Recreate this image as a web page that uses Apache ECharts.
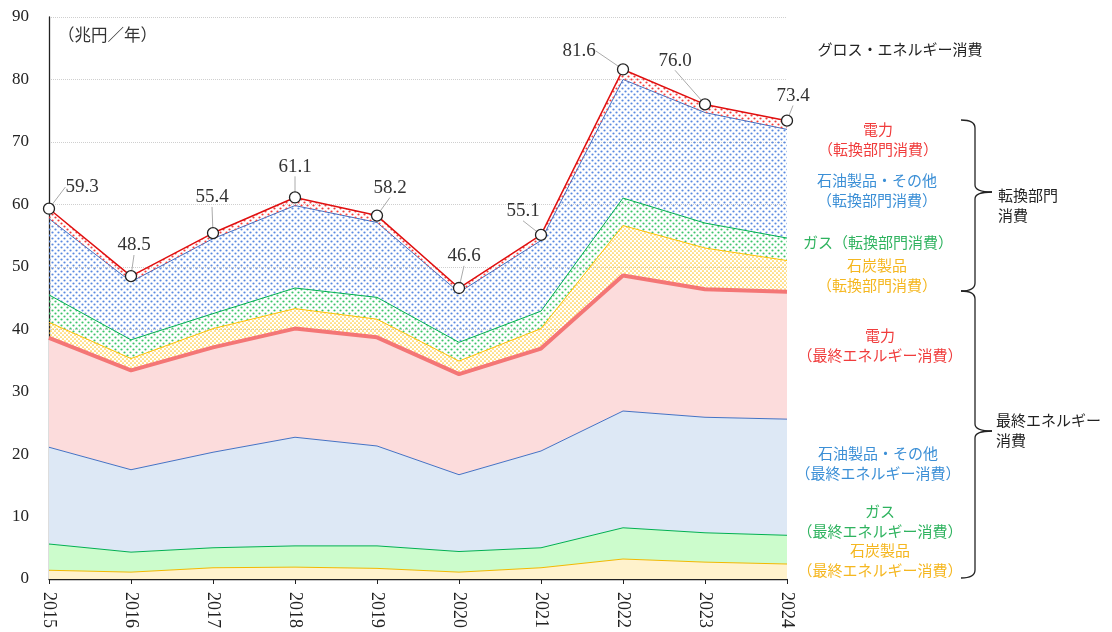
<!DOCTYPE html>
<html>
<head>
<meta charset="utf-8">
<title>エネルギー消費</title>
<script src="https://cdn.jsdelivr.net/npm/echarts/dist/echarts.min.js"></script>
<style>
  html, body { margin: 0; padding: 0; background: #fff; }
  #chart { width: 1112px; height: 632px; }
</style>
</head>
<body>
<div id="chart"></div>
<script>
const years = ['2015', '2016', '2017', '2018', '2019', '2020', '2021', '2022', '2023', '2024']

// 兆円／年, bottom to top of the stack
const coalFinal = [1.4, 1.1, 1.8, 1.9, 1.7, 1.1, 1.8, 3.2, 2.7, 2.4]
const gasFinal = [4.2, 3.2, 3.2, 3.4, 3.6, 3.3, 3.2, 5.0, 4.7, 4.6]
const oilFinal = [15.5, 13.2, 15.3, 17.4, 16.0, 12.3, 15.5, 18.7, 18.5, 18.6]
const elecFinal = [17.5, 15.9, 16.8, 17.4, 17.4, 16.1, 16.4, 21.7, 20.5, 20.4]
const coalConv = [2.5, 1.9, 3.0, 3.2, 2.9, 2.1, 3.2, 8.0, 6.6, 5.0]
const gasConv = [4.4, 3.0, 2.4, 3.3, 3.5, 3.0, 2.8, 4.4, 4.0, 3.6]
const oilConv = [12.2, 9.3, 12.0, 13.2, 12.0, 8.0, 11.3, 19.0, 17.7, 17.4]
const elecConv = [1.6, 0.9, 0.9, 1.3, 1.1, 0.7, 0.9, 1.6, 1.3, 1.4]

const yTicks = [0, 10, 20, 30, 40, 50, 60, 70, 80, 90]

const layers = [coalFinal, gasFinal, oilFinal, elecFinal, coalConv, gasConv, oilConv, elecConv]
const totals = years.map((y, i) => layers.reduce((s, arr) => s + arr[i], 0))

// where each total label sits relative to its point
const labelShift = [[33, -2], [3, -11], [-1, -16], [0, -11], [13, -8], [5, -12], [-18, -4], [-44, 1], [-30, -24], [6, -5]]

const serif = '"Liberation Serif", "Times New Roman", serif'
const jp = '"Noto Sans CJK JP", sans-serif'

function dots(color, w, h, pts, r) {
  const c = document.createElement('canvas')
  c.width = w
  c.height = h
  const ctx = c.getContext('2d')
  ctx.fillStyle = color
  pts.forEach(p => {
    ctx.beginPath()
    ctx.arc(p[0], p[1], r, 0, Math.PI * 2)
    ctx.fill()
  })
  return { image: c, repeat: 'repeat' }
}

const sparse = [[1.5, 1.5], [4.5, 4.5]]
const dense = [[1, 1], [3, 3]]

function layer(name, data, line, fill, width) {
  return {
    name: name,
    type: 'line',
    stack: 'all',
    data: data,
    showSymbol: false,
    symbol: 'none',
    silent: true,
    lineStyle: { color: line, width: width || 1 },
    areaStyle: { color: fill, opacity: 1 },
    animation: false
  }
}

const chart = echarts.init(document.getElementById('chart'))

const series = [
  layer('石炭製品（最終）', coalFinal, '#f2b800', '#fff2cc'),
  layer('ガス（最終）', gasFinal, '#00b050', '#ccfccc'),
  layer('石油製品・その他（最終）', oilFinal, '#4472c4', '#dde8f5'),
  layer('電力（最終）', elecFinal, '#f47676', '#fcdcdc', 4),
  layer('石炭製品（転換）', coalConv, '#ffc000', dots('#ffc52a', 4, 4, dense, 0.85)),
  layer('ガス（転換）', gasConv, '#00b050', dots('#3cc46c', 6, 6, sparse, 1.1)),
  layer('石油製品・その他（転換）', oilConv, '#4472c4', dots('#5a8ae0', 6, 6, sparse, 1.1)),
  layer('電力（転換）', elecConv, '#e01010', dots('#ee3b3b', 6, 6, sparse, 1.1), 1.5)
]

// top series carries the markers and total labels
Object.assign(series[7], {
  showSymbol: true,
  symbol: 'circle',
  symbolSize: 11,
  itemStyle: { color: '#fff', borderColor: '#222', borderWidth: 1.3 },
  z: 5,
  label: {
    show: true,
    position: 'top',
    distance: 4,
    fontFamily: serif,
    fontSize: 19,
    color: '#333',
    formatter: p => totals[p.dataIndex].toFixed(1)
  },
  labelLine: { show: true, lineStyle: { color: '#aaa', width: 1 } },
  labelLayout: p => ({ dx: labelShift[p.dataIndex][0], dy: labelShift[p.dataIndex][1] })
})

function note(text, x, y, color, align, size) {
  return {
    type: 'text',
    x: x,
    y: y,
    style: {
      text: text,
      fill: color,
      font: (size || 15) + 'px ' + jp,
      align: align || 'center',
      verticalAlign: 'middle',
      lineHeight: 20
    }
  }
}

const braceStyle = { fill: 'none', stroke: '#222', lineWidth: 1.3 }

function curve(x1, y1, cx, cy, x2, y2) {
  return { type: 'bezierCurve', shape: { x1: x1, y1: y1, cpx1: cx, cpy1: cy, x2: x2, y2: y2 }, style: braceStyle }
}

function seg(x1, y1, x2, y2) {
  return { type: 'line', shape: { x1: x1, y1: y1, x2: x2, y2: y2 }, style: braceStyle }
}

function brace(y1, ym, y2) {
  const x = 975
  return [
    curve(961, y1, x, y1, x, y1 + 8),
    seg(x, y1 + 8, x, ym - 7),
    curve(x, ym - 7, x, ym, 992, ym),
    curve(992, ym, x, ym, x, ym + 7),
    seg(x, ym + 7, x, y2 - 8),
    curve(x, y2 - 8, x, y2, 961, y2)
  ]
}

const red = '#f03c3c'
const blue = '#3b8fd6'
const green = '#2fb35f'
const amber = '#f5b720'

chart.setOption({
  animation: false,
  grid: { left: 49, right: 325, top: 17, bottom: 53, containLabel: false },
  xAxis: {
    type: 'category',
    data: years,
    boundaryGap: false,
    axisLine: { lineStyle: { color: '#222', width: 1.3 } },
    axisTick: { show: true, length: 5, lineStyle: { color: '#222' } },
    axisLabel: { rotate: -90, fontFamily: serif, fontSize: 18, color: '#222', margin: 13 },
    splitLine: { show: false }
  },
  yAxis: {
    type: 'value',
    min: yTicks[0],
    max: yTicks[yTicks.length - 1],
    interval: yTicks[1] - yTicks[0],
    axisLine: { show: true, lineStyle: { color: '#222', width: 1.3 } },
    axisTick: { show: false },
    axisLabel: { fontFamily: serif, fontSize: 17, color: '#222', margin: 20 },
    splitLine: { lineStyle: { color: '#cfcfcf', type: 'dotted' } }
  },
  series: series,
  graphic: [
    note('（兆円／年）', 58, 35, '#333', 'left', 16.5),
    note('グロス・エネルギー消費', 900, 49, '#222'),
    note('電力\n（転換部門消費）', 878, 139, red),
    note('石油製品・その他\n（転換部門消費）', 877, 190, blue),
    note('ガス（転換部門消費）', 878, 242, green),
    note('石炭製品\n（転換部門消費）', 877, 275, amber),
    note('電力\n（最終エネルギー消費）', 880, 345, red),
    note('石油製品・その他\n（最終エネルギー消費）', 878, 463, blue),
    note('ガス\n（最終エネルギー消費）', 880, 521, green),
    note('石炭製品\n（最終エネルギー消費）', 880, 560, amber),
    note('転換部門\n消費', 998, 205, '#222', 'left'),
    note('最終エネルギー\n消費', 996, 430, '#222', 'left')
  ].concat(brace(120, 192, 291), brace(291, 431, 578))
})
</script>
</body>
</html>
